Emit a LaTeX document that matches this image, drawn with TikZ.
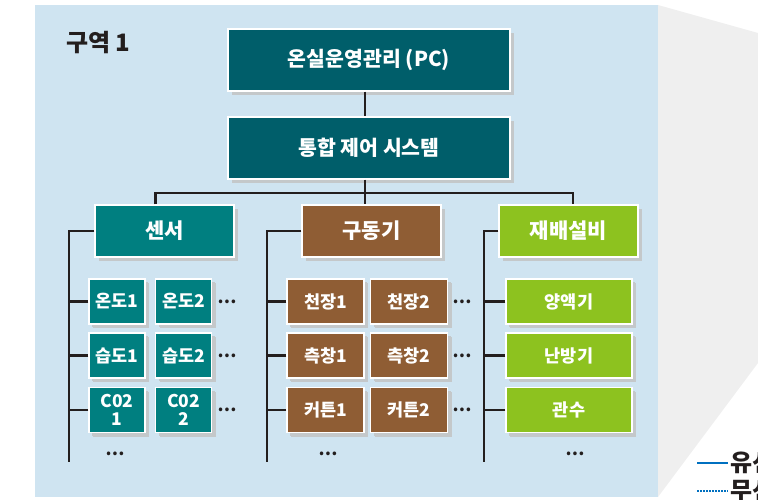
\documentclass[tikz,border=0pt]{standalone}
\usepackage{fontspec}
\setmainfont{Noto Sans CJK KR}
\usetikzlibrary{shadows}
\definecolor{panelblue}{RGB}{207,228,241}
\definecolor{sidegray}{RGB}{239,239,239}
\definecolor{shadowgray}{RGB}{196,200,202}
\definecolor{topteal}{RGB}{0,94,106}
\definecolor{sensorteal}{RGB}{0,127,128}
\definecolor{drivebrown}{RGB}{143,93,52}
\definecolor{facilgreen}{RGB}{141,194,31}
\definecolor{wiredark}{RGB}{35,30,30}
\definecolor{legendblue}{RGB}{0,112,192}
\begin{document}
\begin{tikzpicture}[x=1pt,y=-1pt,
  box/.style={draw=white,line width=1.2pt,text=white,inner sep=0pt,align=center,
    drop shadow={shadow xshift=4pt,shadow yshift=-4pt,fill=shadowgray,opacity=1}},
  topbox/.style={box,fill=topteal,minimum width=282pt,minimum height=62pt,font=\bfseries\fontsize{20.5}{24}\selectfont},
  groupbox/.style={box,minimum width=139pt,minimum height=52pt,font=\bfseries\fontsize{21}{24}\selectfont},
  itembox/.style={box,minimum height=45pt,font=\bfseries\fontsize{17.5}{18.5}\selectfont,
    drop shadow={shadow xshift=3pt,shadow yshift=-3pt,fill=shadowgray,opacity=1}},
  more/.style={font=\bfseries\fontsize{17}{18}\selectfont,text=wiredark,inner sep=0pt},
  wire/.style={draw=wiredark,line width=2.8pt},
  legendtext/.style={font=\bfseries\fontsize{24}{26}\selectfont,text=wiredark,inner sep=2pt,anchor=west}]
\useasboundingbox (0,0) rectangle (758,500);
\fill[sidegray] (658,5) -- (758,33) -- (758,363) -- (658,497) -- cycle;
\fill[panelblue] (35,5) rectangle (658,497);
\node[anchor=west,font=\bfseries\fontsize{24}{26}\selectfont,text=wiredark,inner sep=0pt] (zone) at (66,43) {구역 1};

\node[topbox] (pc) at (369,60) {온실운영관리 (PC)};
\node[topbox] (sys) at (369,148) {통합 제어 시스템};

\node[groupbox,fill=sensorteal] (sensor) at (164.5,231) {센서};
\node[groupbox,fill=drivebrown] (drive) at (371.5,231) {구동기};
\node[groupbox,fill=facilgreen] (facil) at (568.5,231) {재배설비};

\node[itembox,fill=sensorteal,minimum width=56pt] (temp1) at (117,301.5) {온도1};
\node[itembox,fill=sensorteal,minimum width=56pt] (temp2) at (183.5,301.5) {온도2};
\node[itembox,fill=sensorteal,minimum width=56pt] (hum1) at (117,355.5) {습도1};
\node[itembox,fill=sensorteal,minimum width=56pt] (hum2) at (183.5,355.5) {습도2};
\node[itembox,fill=sensorteal,minimum width=56pt] (co1) at (117,410) {C02\\1};
\node[itembox,fill=sensorteal,minimum width=56pt] (co2) at (183.5,410) {C02\\2};
\node[more] (tempdots) at (227,301.5) {⋯};
\node[more] (humdots) at (227,355.5) {⋯};
\node[more] (codots) at (227,410) {⋯};
\node[more] (sensordots) at (115,454) {⋯};

\node[itembox,fill=drivebrown,minimum width=77pt] (roof1) at (325.5,301.5) {천장1};
\node[itembox,fill=drivebrown,minimum width=77pt] (roof2) at (409,301.5) {천장2};
\node[itembox,fill=drivebrown,minimum width=77pt] (side1) at (325.5,355.5) {측창1};
\node[itembox,fill=drivebrown,minimum width=77pt] (side2) at (409,355.5) {측창2};
\node[itembox,fill=drivebrown,minimum width=77pt] (curtain1) at (325.5,410) {커튼1};
\node[itembox,fill=drivebrown,minimum width=77pt] (curtain2) at (409,410) {커튼2};
\node[more] (roofdots) at (462,301.5) {⋯};
\node[more] (sidedots) at (462,355.5) {⋯};
\node[more] (curtaindots) at (462,410) {⋯};
\node[more] (drivedots) at (328,454) {⋯};

\node[itembox,fill=facilgreen,minimum width=126pt] (nutrient) at (569,301.5) {양액기};
\node[itembox,fill=facilgreen,minimum width=126pt] (heater) at (569,355.5) {난방기};
\node[itembox,fill=facilgreen,minimum width=126pt] (irrig) at (569,410) {관수};
\node[more] (facildots) at (575,454) {⋯};

\coordinate (bus) at (365,193);
\draw[wire] (pc.south -| bus) -- (sys.north -| bus);
\draw[wire] (sys.south -| bus) -- (drive.north -| bus);
\draw[wire] ([xshift=-9pt]sensor.north) |- (bus) -| ([xshift=4.5pt]facil.north);

\coordinate (sensorend) at (69,462);
\draw[wire] (sensor.west) -| (sensorend);
\draw[wire] (temp1.west) -- (temp1.west -| sensorend);
\draw[wire] (hum1.west) -- (hum1.west -| sensorend);
\draw[wire] (co1.west) -- (co1.west -| sensorend);

\coordinate (driveend) at (267,462);
\draw[wire] (drive.west) -| (driveend);
\draw[wire] (roof1.west) -- (roof1.west -| driveend);
\draw[wire] (side1.west) -- (side1.west -| driveend);
\draw[wire] (curtain1.west) -- (curtain1.west -| driveend);

\coordinate (facilend) at (484,462);
\draw[wire] (facil.west) -| (facilend);
\draw[wire] (nutrient.west) -- (nutrient.west -| facilend);
\draw[wire] (heater.west) -- (heater.west -| facilend);
\draw[wire] (irrig.west) -- (irrig.west -| facilend);

\node[legendtext] (wired) at (728,463) {유선};
\node[legendtext] (wireless) at (728,491) {무선};
\coordinate (wiredstart) at (697,463);
\coordinate (wirelessstart) at (697,491);
\draw[legendblue,line width=1.6pt] (wiredstart) -- (wired.west);
\draw[legendblue,line width=1.6pt,dash pattern=on 1.6pt off 1.4pt] (wirelessstart) -- (wireless.west);
\end{tikzpicture}
\end{document}
